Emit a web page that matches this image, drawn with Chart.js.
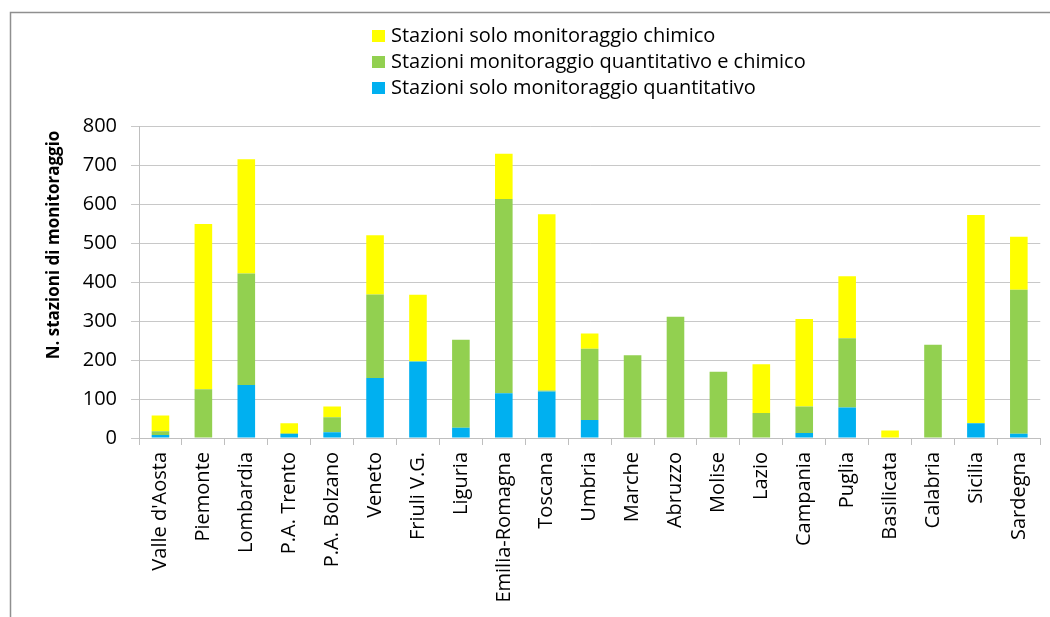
<!DOCTYPE html>
<html>
<head>
<meta charset="utf-8">
<script src="https://cdn.jsdelivr.net/npm/chart.js@4.4.1/dist/chart.umd.min.js"></script>
<style>
  html, body { margin: 0; padding: 0; background: #fff; }
</style>
</head>
<body>
<canvas id="c" width="1050" height="617"></canvas>
<script>
const regions = [
  "Valle d'Aosta", 'Piemonte', 'Lombardia', 'P.A. Trento', 'P.A. Bolzano', 'Veneto',
  'Friuli V.G.', 'Liguria', 'Emilia-Romagna', 'Toscana', 'Umbria', 'Marche', 'Abruzzo',
  'Molise', 'Lazio', 'Campania', 'Puglia', 'Basilicata', 'Calabria', 'Sicilia', 'Sardegna'
];
// bottom segment
const soloQuantitativo = [8, 0, 136, 10, 15, 154, 196, 26, 115, 119, 46, 0, 0, 0, 0, 13, 78, 0, 0, 38, 11];
// middle segment
const quantitativoChimico = [9, 125, 286, 2, 38, 214, 0, 226, 498, 3, 183, 212, 311, 170, 64, 68, 178, 0, 239, 0, 369];
// top segment
const soloChimico = [41, 424, 293, 26, 28, 152, 171, 0, 116, 452, 39, 0, 0, 0, 125, 224, 159, 19, 0, 534, 136];

const seriesLabels = [
  'Stazioni solo monitoraggio quantitativo',
  'Stazioni monitoraggio quantitativo e chimico',
  'Stazioni solo monitoraggio chimico'
];
const seriesColors = ['#00B0F0', '#92D050', '#FFFF00'];
const yMax = 800;
const yStep = 100;
const yTitle = 'N. stazioni di monitoraggio';

const FONT = '"Open Sans"';

// frame, legend (reversed, one per line) and y title
const decorations = {
  id: 'decorations',
  beforeDraw(chart) {
    const ctx = chart.ctx;
    ctx.save();
    ctx.fillStyle = '#fff';
    ctx.fillRect(0, 0, chart.width, chart.height);
    ctx.strokeStyle = '#8f8f8f';
    ctx.lineWidth = 1.5;
    ctx.beginPath();
    ctx.moveTo(10.5, chart.height);
    ctx.lineTo(10.5, 12.5);
    ctx.lineTo(chart.width, 12.5);
    ctx.stroke();
    ctx.restore();
  },
  afterDraw(chart) {
    const ctx = chart.ctx;
    ctx.save();
    ctx.font = '20px ' + FONT;
    ctx.textBaseline = 'middle';
    const items = chart.data.datasets.map(d => ({ text: d.label, color: d.backgroundColor })).reverse();
    items.forEach((it, i) => {
      const y = 36 + i * 26;
      ctx.fillStyle = it.color;
      ctx.fillRect(372, y - 6, 13, 12);
      ctx.fillStyle = '#000';
      ctx.fillText(it.text, 391, y);
    });
    ctx.translate(54, 245);
    ctx.rotate(-Math.PI / 2);
    ctx.font = 'bold 17px ' + FONT;
    ctx.textAlign = 'center';
    ctx.fillText(yTitle, 0, 0);
    ctx.restore();
  }
};

const datasets = [soloQuantitativo, quantitativoChimico, soloChimico].map((vals, i) => ({
  label: seriesLabels[i],
  data: vals,
  backgroundColor: seriesColors[i],
  borderWidth: 0,
  barPercentage: 0.41,
  categoryPercentage: 1
}));

new Chart(document.getElementById('c'), {
  type: 'bar',
  data: { labels: regions, datasets },
  options: {
    responsive: false,
    animation: false,
    layout: { padding: { top: 126, right: 7, left: 0, bottom: 0 } },
    plugins: { legend: { display: false }, tooltip: { enabled: false } },
    scales: {
      x: {
        stacked: true,
        grid: { drawOnChartArea: false, tickLength: 7, color: '#bfbfbf', offset: true },
        border: { color: '#bfbfbf' },
        ticks: {
          minRotation: 90, maxRotation: 90, autoSkip: false, padding: 7,
          color: '#000', font: { family: FONT, size: 20 }
        },
        afterFit(s) { s.height = 179; }
      },
      y: {
        stacked: true,
        min: 0, max: yMax,
        grid: { color: '#c8c8c8', tickLength: 8 },
        border: { color: '#bfbfbf' },
        ticks: { stepSize: yStep, padding: 14, color: '#000', font: { family: FONT, size: 20 } },
        afterFit(s) { s.width = 139; }
      }
    }
  },
  plugins: [decorations]
});
</script>
</body>
</html>
